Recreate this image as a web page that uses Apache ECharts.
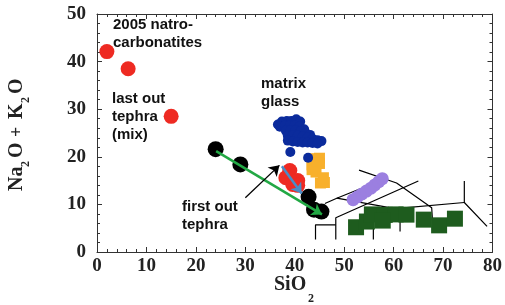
<!DOCTYPE html>
<html lang="en">
<head>
    <meta charset="UTF-8">
    <title>TAS</title>
    <style>
        html, body { margin: 0; padding: 0; background: #fff; }
        #main { width: 505px; height: 305px; }
    </style>
</head>
<body>
    <div id="main"></div>
    <script src="https://cdn.jsdelivr.net/npm/echarts@6/dist/echarts.min.js"></script>
    <script>
        // data (SiO2, Na2O+K2O)
        var xTicks = [0, 10, 20, 30, 40, 50, 60, 70, 80];
        var yTicks = [0, 10, 20, 30, 40, 50];

        var natro = [[2.0, 42.1], [6.3, 38.5], [15.0, 28.5]];
        var tephraRed = [[39.0, 17.1], [38.2, 15.6], [38.8, 15.5], [40.6, 15.0], [39.6, 14.2], [40.6, 14.0]];
        var blackPts = [[24.0, 21.6], [29.0, 18.4], [42.8, 11.6], [43.9, 8.9], [45.4, 8.5]];
        var glass = [
            [36.6, 26.8], [37.4, 27.4], [38.4, 27.5], [39.3, 27.5], [40.3, 27.9], [41.1, 27.4],
            [37.0, 26.3], [38.0, 26.5], [39.0, 26.6], [40.0, 26.6], [41.0, 26.4], [41.9, 25.8],
            [38.2, 25.5], [39.2, 25.6], [40.2, 25.6], [41.2, 25.4], [42.2, 25.0], [43.1, 24.6],
            [38.6, 24.4], [39.6, 24.5], [40.6, 24.4], [41.6, 24.2], [42.6, 24.0], [43.6, 23.8], [44.6, 23.5], [45.4, 23.3],
            [38.6, 23.4], [39.6, 23.2], [40.6, 23.1], [41.6, 23.0], [42.6, 23.0], [43.6, 22.9], [44.6, 22.8],
            [39.1, 21.0], [42.7, 19.8]
        ];
        var orange = [[43.5, 19.6], [45.0, 19.7], [43.5, 18.3], [45.0, 18.6], [43.5, 17.3], [44.3, 16.8],
            [45.2, 14.5], [46.0, 14.6], [45.8, 15.6]];
        var purple = [[51.8, 11.0], [52.7, 11.6], [53.6, 12.2], [54.5, 12.8], [55.4, 13.4], [56.2, 14.1], [57.0, 14.8], [57.7, 15.4]];
        var green = [[52.4, 5.2], [54.6, 6.4], [55.6, 7.9], [58.2, 7.8], [60.4, 7.9], [62.6, 7.85], [57.8, 6.6],
            [66.1, 6.8], [69.2, 5.6], [72.4, 7.0]];

        // TAS field boundaries as traced
        var tasLines = [
            [[44.2, 2.6], [44.2, 5.7], [48.3, 5.7]],
            [[48.3, 2.6], [48.3, 7.2], [65.0, 14.9]],
            [[46.1, 10.2], [48.5, 11.3], [53.5, 13.4]],
            [[48.5, 11.3], [60.3, 9.1], [74.3, 10.4]],
            [[53.0, 17.2], [60.6, 14.5], [67.7, 9.3], [67.9, 6.0]],
            [[74.3, 14.9], [74.3, 10.4], [78.9, 5.4]],
            [[55.9, 2.6], [55.9, 7.0]],
            [[61.3, 4.3], [61.3, 8.5]]
        ];

        // arrows: [from, to, colour, width]
        var arrows = [
            [[24.1, 21.2], [45.5, 7.9], '#22a844', 2.5],
            [[37.4, 18.0], [41.4, 12.3], '#4a8cc6', 2.5],
            [[30.0, 11.4], [36.9, 18.2], '#000000', 1.3]
        ];

        var serif = '"Liberation Serif", "Times New Roman", serif';
        var sans = '"Liberation Sans", Arial, sans-serif';

        var myChart = echarts.init(document.getElementById('main'));

        var axisCommon = {
            axisLine: { show: true, onZero: false, lineStyle: { color: '#333', width: 1 } },
            axisTick: { show: true, inside: true, length: 5, lineStyle: { color: '#333' } },
            minorTick: { show: true, splitNumber: 5, length: 3, lineStyle: { color: '#333' } },
            splitLine: { show: false }
        };

        var series = [];
        tasLines.forEach(function (seg) {
            series.push({
                type: 'line',
                data: seg,
                symbol: 'none',
                lineStyle: { color: '#000', width: 1.2 },
                silent: true,
                z: 1
            });
        });

        function scat(data, color, size, symbol, z) {
            return {
                type: 'scatter',
                data: data,
                symbol: symbol || 'circle',
                symbolSize: size,
                itemStyle: { color: color, opacity: 1 },
                silent: true,
                z: z
            };
        }

        series.push(scat(orange, '#f8b02c', 11, 'rect', 2));
        series.push(scat(glass, '#0b2b9c', 10, 'circle', 3));
        series.push(scat(tephraRed, '#ee2a22', 15, 'circle', 3));
        series.push(scat(natro, '#ee2a22', 15, 'circle', 3));
        series.push(scat(blackPts, '#000000', 16, 'circle', 4));
        series.push(scat(purple, '#9b7fe0', 13, 'circle', 4));
        series.push(scat(green, '#1e5c1e', 16, 'rect', 4));

        series.push({
            type: 'scatter',
            data: [],
            silent: true,
            z: 6,
            markLine: {
                silent: true,
                animation: false,
                symbol: ['none', 'arrow'],
                symbolSize: 10,
                label: { show: false },
                data: arrows.map(function (a) {
                    return [
                        { coord: a[0], lineStyle: { color: a[2], width: a[3], type: 'solid' } },
                        { coord: a[1] }
                    ];
                })
            }
        });

        var nameFont = { fontFamily: serif, fontWeight: 'bold', fill: '#222' };
        function nameText(txt, x, y, size) {
            return {
                type: 'text', x: x, y: y,
                style: Object.assign({ text: txt, fontSize: size, verticalAlign: 'middle', align: 'left' }, nameFont)
            };
        }

        var option = {
            animation: false,
            grid: { left: 97, right: 12, top: 14, bottom: 53 },
            xAxis: [
                Object.assign({
                    type: 'value', min: 0, max: 80, interval: 10, position: 'bottom',
                    axisLabel: { color: '#222', fontFamily: serif, fontWeight: 'bold', fontSize: 19, margin: 5 }
                }, axisCommon),
                Object.assign({
                    type: 'value', min: 0, max: 80, interval: 10, position: 'top',
                    axisLabel: { show: false }
                }, axisCommon)
            ],
            yAxis: [
                Object.assign({
                    type: 'value', min: 0, max: 50, interval: 10, position: 'left',
                    axisLabel: { color: '#222', fontFamily: serif, fontWeight: 'bold', fontSize: 19, margin: 11 }
                }, axisCommon),
                Object.assign({
                    type: 'value', min: 0, max: 50, interval: 10, position: 'right',
                    axisLabel: { show: false }
                }, axisCommon)
            ],
            graphic: [
                // x axis name: SiO2
                nameText('SiO', 274, 285, 20),
                nameText('2', 308, 299, 12),
                // y axis name: Na2O + K2O, rotated to read upward
                {
                    type: 'group', x: 17, y: 191, rotation: Math.PI / 2,
                    children: [
                        nameText('Na', 0, 0, 20),
                        nameText('2', 24, 9, 12),
                        nameText('O', 33, 0, 20),
                        nameText('+', 54, 0, 18),
                        nameText('K', 72, 0, 20),
                        nameText('2', 88, 9, 12),
                        nameText('O', 97, 0, 20)
                    ]
                },
                {
                    type: 'text', left: 113, top: 16,
                    style: { text: '2005 natro-\ncarbonatites', font: 'bold 15px ' + sans, lineHeight: 18, fill: '#111' }
                },
                {
                    type: 'text', left: 112, top: 90,
                    style: { text: 'last out\ntephra\n(mix)', font: 'bold 15px ' + sans, lineHeight: 18, fill: '#111' }
                },
                {
                    type: 'text', left: 261, top: 75,
                    style: { text: 'matrix\nglass', font: 'bold 15px ' + sans, lineHeight: 18, fill: '#111' }
                },
                {
                    type: 'text', left: 182, top: 198,
                    style: { text: 'first out\ntephra', font: 'bold 15px ' + sans, lineHeight: 18, fill: '#111' }
                }
            ],
            series: series
        };
        myChart.setOption(option);
    </script>
</body>
</html>
